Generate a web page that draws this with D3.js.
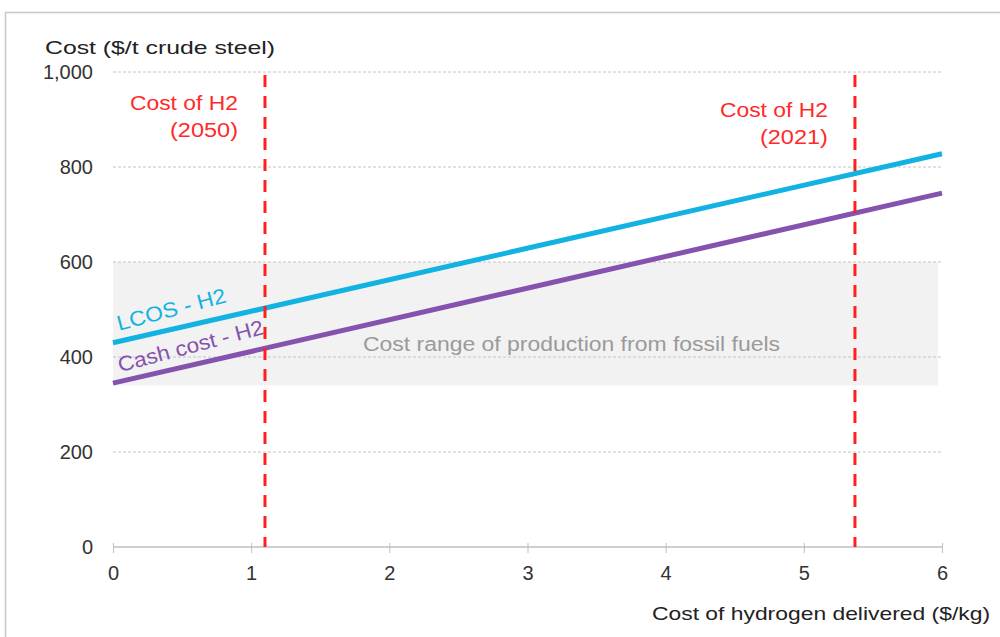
<!DOCTYPE html>
<html lang="en">
	<head>
		<meta charset="utf-8">
		<title>Cost of steel vs cost of hydrogen</title>
		<script type="text/javascript" src="https://cdn.jsdelivr.net/npm/d3@7"></script>
		<style type="text/css">
			body { margin: 0; background: #fff; }
			text { font-family: "Liberation Sans", Arial, sans-serif; }
		</style>
	</head>
	<body>
		<script>
			// hydrogen cost ($/kg) at the two ends of each line
			var h2Cost = [0, 6];
			var lcosH2 = [430, 828];
			var cashCostH2 = [345, 745];
			var fossilRange = [340, 600];
			var h2Markers = [
				{x: 1.1, lines: ["Cost of H2", "(2050)"]},
				{x: 5.37, lines: ["Cost of H2", "(2021)"]}
			];
			var xTicks = [0, 1, 2, 3, 4, 5, 6];
			var yTicks = [0, 200, 400, 600, 800, 1000];

			var outerWidth = 1000,
				outerHeight = 637,
				margin = {top: 72, right: 58, bottom: 90, left: 113},
				width = outerWidth - margin.left - margin.right,
				height = outerHeight - margin.top - margin.bottom;

			var svg = d3.select("body")
				.append("svg")
				.attr("width", outerWidth)
				.attr("height", outerHeight);

			// frame around the figure
			svg.append("path")
				.attr("d", "M5.5,637 V12.5 H1000")
				.attr("fill", "none")
				.attr("stroke", "#c8c8c8")
				.attr("stroke-width", 1.5);

			var g = svg.append("g")
				.attr("transform", "translate(" + margin.left + "," + margin.top + ")");

			var x = d3.scaleLinear().domain([0, 6]).range([0, width]);
			var y = d3.scaleLinear().domain([0, 1000]).range([height, 0]);

			// fossil fuel band
			g.append("rect")
				.attr("x", x(0))
				.attr("width", x(5.97) - x(0))
				.attr("y", y(fossilRange[1]))
				.attr("height", y(fossilRange[0]) - y(fossilRange[1]))
				.attr("fill", "#f2f2f2");

			// gridlines
			g.append("g")
				.selectAll("line")
				.data(yTicks.filter(function(d) { return d > 0; }))
				.enter().append("line")
				.attr("x1", 0)
				.attr("x2", width)
				.attr("y1", function(d) { return y(d); })
				.attr("y2", function(d) { return y(d); })
				.attr("stroke", "#c4c4c4")
				.attr("stroke-width", 1)
				.attr("stroke-dasharray", "3,2");

			g.append("text")
				.attr("x", 363 - margin.left)
				.attr("y", y(400) - 6)
				.attr("font-size", 20)
				.attr("fill", "#9a9a9a")
				.attr("textLength", 417)
				.attr("lengthAdjust", "spacingAndGlyphs")
				.text("Cost range of production from fossil fuels");

			// x axis
			var xAxis = g.append("g")
				.attr("transform", "translate(0," + height + ")")
				.call(d3.axisBottom(x).tickValues(xTicks).tickFormat(d3.format("d")).tickSize(6).tickPadding(13));
			xAxis.select(".domain").attr("stroke", "#bfbfbf").attr("stroke-width", 1.5).attr("d", "M0,0H" + width);
			xAxis.selectAll(".tick line").attr("stroke", "#bfbfbf").attr("y1", -4);
			xAxis.selectAll(".tick text").attr("font-size", 20).attr("fill", "#333");

			// y axis labels only
			var yAxis = g.append("g")
				.call(d3.axisLeft(y).tickValues(yTicks).tickFormat(d3.format(",")).tickSize(0).tickPadding(20));
			yAxis.select(".domain").remove();
			yAxis.selectAll(".tick text").attr("font-size", 20).attr("fill", "#333");

			svg.append("text")
				.attr("x", 45)
				.attr("y", 54)
				.attr("font-size", 19)
				.attr("fill", "#222")
				.attr("textLength", 230)
				.attr("lengthAdjust", "spacingAndGlyphs")
				.text("Cost ($/t crude steel)");

			svg.append("text")
				.attr("x", 652)
				.attr("y", 620)
				.attr("font-size", 19)
				.attr("fill", "#222")
				.attr("textLength", 338)
				.attr("lengthAdjust", "spacingAndGlyphs")
				.text("Cost of hydrogen delivered ($/kg)");

			// cost lines
			var line = d3.line()
				.x(function(d) { return x(d[0]); })
				.y(function(d) { return y(d[1]); });

			g.append("path")
				.datum(d3.zip(h2Cost, cashCostH2))
				.attr("d", line)
				.attr("fill", "none")
				.attr("stroke", "#8552ad")
				.attr("stroke-width", 5);

			g.append("path")
				.datum(d3.zip(h2Cost, lcosH2))
				.attr("d", line)
				.attr("fill", "none")
				.attr("stroke", "#12b2e2")
				.attr("stroke-width", 5);

			var angle = Math.atan2(y(lcosH2[1]) - y(lcosH2[0]), x(6) - x(0)) * 180 / Math.PI;

			g.append("text")
				.attr("transform", "translate(" + (x(0) + 6) + "," + (y(lcosH2[0]) - 12) + ") rotate(" + (angle - 2) + ")")
				.attr("font-size", 21)
				.attr("fill", "#12b2e2")
				.attr("textLength", 112)
				.attr("lengthAdjust", "spacingAndGlyphs")
				.text("LCOS - H2");

			g.append("text")
				.attr("transform", "translate(" + (x(0) + 7) + "," + (y(cashCostH2[0]) - 11) + ") rotate(" + (angle - 2) + ")")
				.attr("font-size", 21)
				.attr("fill", "#8552ad")
				.attr("textLength", 150)
				.attr("lengthAdjust", "spacingAndGlyphs")
				.text("Cash cost - H2");

			// hydrogen cost markers
			var marker = g.selectAll(".marker")
				.data(h2Markers)
				.enter().append("g")
				.attr("class", "marker");

			marker.append("line")
				.attr("x1", function(d) { return x(d.x); })
				.attr("x2", function(d) { return x(d.x); })
				.attr("y1", 3)
				.attr("y2", height)
				.attr("stroke", "#ff1f1f")
				.attr("stroke-width", 3)
				.attr("stroke-dasharray", "12,9");

			marker.each(function(d, i) {
				var t = d3.select(this).append("text")
					.attr("text-anchor", "end")
					.attr("font-size", 20)
					.attr("fill", "#ff2a2a");
				d.lines.forEach(function(s, j) {
					t.append("tspan")
						.attr("x", x(d.x) - 27)
						.attr("y", (i === 0 ? 38 : 45) + j * 27)
						.attr("textLength", j === 0 ? 108 : 68)
						.attr("lengthAdjust", "spacingAndGlyphs")
						.text(s);
				});
			});
		</script>
	</body>
</html>
